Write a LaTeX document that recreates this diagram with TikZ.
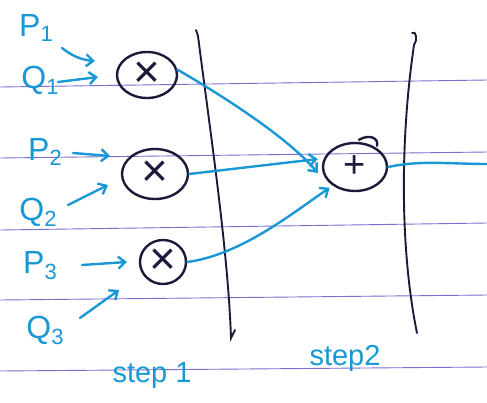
\documentclass[tikz,border=0pt]{standalone}
\usepackage{fontspec}
\setmainfont{Liberation Sans}
\usetikzlibrary{arrows.meta,shapes.geometric}
\definecolor{ink}{HTML}{1C1A3A}
\definecolor{pen}{HTML}{1A98D5}
\definecolor{ruling}{HTML}{7A6FD0}
\newcommand{\lsub}[2]{#1\raisebox{-0.35ex}{\fontsize{22}{22}\selectfont #2}}
\begin{document}
\begin{tikzpicture}[x=1pt,y=-1pt,
  op/.style={ellipse, draw=ink, line width=2.4pt, inner sep=0pt, text=ink, font=\fontsize{46}{46}\selectfont},
  link/.style={pen, line width=2.4pt, line cap=round, -{Straight Barb[length=7pt,width=12pt]}},
  wire/.style={pen, line width=2.4pt, line cap=round},
  lbl/.style={text=pen, font=\fontsize{32}{32}\selectfont, inner sep=0pt},
  steplbl/.style={text=pen, font=\fontsize{29}{29}\selectfont, inner sep=0pt},
  ruled/.style={ruling, line width=0.9pt},
  bar/.style={ink, line width=1.9pt, line cap=round}]
\useasboundingbox (0,0) rectangle (487,402);
\fill[white] (0,0) rectangle (487,402);
% ruled paper lines
\draw[ruled] (0,87) -- (487,80);
\draw[ruled] (0,158) -- (487,152);
\draw[ruled] (0,230) -- (487,223);
\draw[ruled] (0,300) -- (487,295);
\draw[ruled] (0,371) -- (487,367);
% stage separators
\draw[bar] (196,30) -- (198,36) .. controls (210,130) and (228,250) .. (231,338) -- (235,330);
\draw[bar] (412,33) .. controls (416,30) and (418,40) .. (414,45) .. controls (400,140) and (400,250) .. (417,333);
% operators
\node[op, minimum width=60pt, minimum height=46pt] (m1) at (147,75) {×};
\node[op, minimum width=66pt, minimum height=50pt] (m2) at (155,174) {×};
\node[op, minimum width=46pt, minimum height=44pt] (m3) at (163,262) {×};
\node[op, minimum width=64pt, minimum height=48pt, font=\fontsize{38}{38}\selectfont] (add) at (355,167) {+};
\draw[ink, line width=2.4pt, line cap=round] ([xshift=4pt,yshift=2pt]add.north) .. controls ([xshift=14pt,yshift=8pt]add.north) and ([xshift=24pt,yshift=4pt]add.north) .. ([xshift=22pt,yshift=-4pt]add.north);
% labels
\node[lbl] (p1) at (36,28) {\lsub{P}{1}};
\node[lbl] (q1) at (40,80) {\lsub{Q}{1}};
\node[lbl] (p2) at (45,152) {\lsub{P}{2}};
\node[lbl] (q2) at (38,212) {\lsub{Q}{2}};
\node[lbl] (p3) at (40,266) {\lsub{P}{3}};
\node[lbl] (q3) at (45,330) {\lsub{Q}{3}};
\node[steplbl] (s1) at (152,376) {step 1};
\node[steplbl] (s2) at (345,358) {step2};
% input arrow tips
\coordinate (tp1) at (95,61);
\coordinate (tq1) at (98,77);
\coordinate (tp2) at (110,156);
\coordinate (tq2) at (108,185);
\coordinate (tp3) at (127,262);
\coordinate (tq3) at (119,290);
\draw[link] ([xshift=26pt,yshift=-20pt]p1.center) .. controls (72,56) and (82,60) .. (tp1);
\draw[link] ([xshift=18pt,yshift=-2pt]q1.center) -- (tq1);
\draw[link] ([xshift=28pt,yshift=-1pt]p2.center) -- (tp2);
\draw[link] ([xshift=30pt,yshift=7pt]q2.center) -- (tq2);
\draw[link] ([xshift=42pt,yshift=1pt]p3.center) -- (tp3);
\draw[link] ([xshift=35pt,yshift=12pt]q3.center) -- (tq3);
% stage connections
\draw[link] (m1.10) .. controls (230,100) and (290,140) .. ([xshift=-4pt,yshift=-6pt]add.west);
\draw[link] (m2.east) -- ([xshift=-4pt,yshift=8pt]add.west);
\draw[link] (m3.east) .. controls (240,255) and (290,215) .. ([xshift=-2pt,yshift=-3pt]add.south west);
\coordinate (out) at (487,164);
\draw[wire] (add.east) .. controls (420,160) and (450,164) .. (out);
\end{tikzpicture}
\end{document}
